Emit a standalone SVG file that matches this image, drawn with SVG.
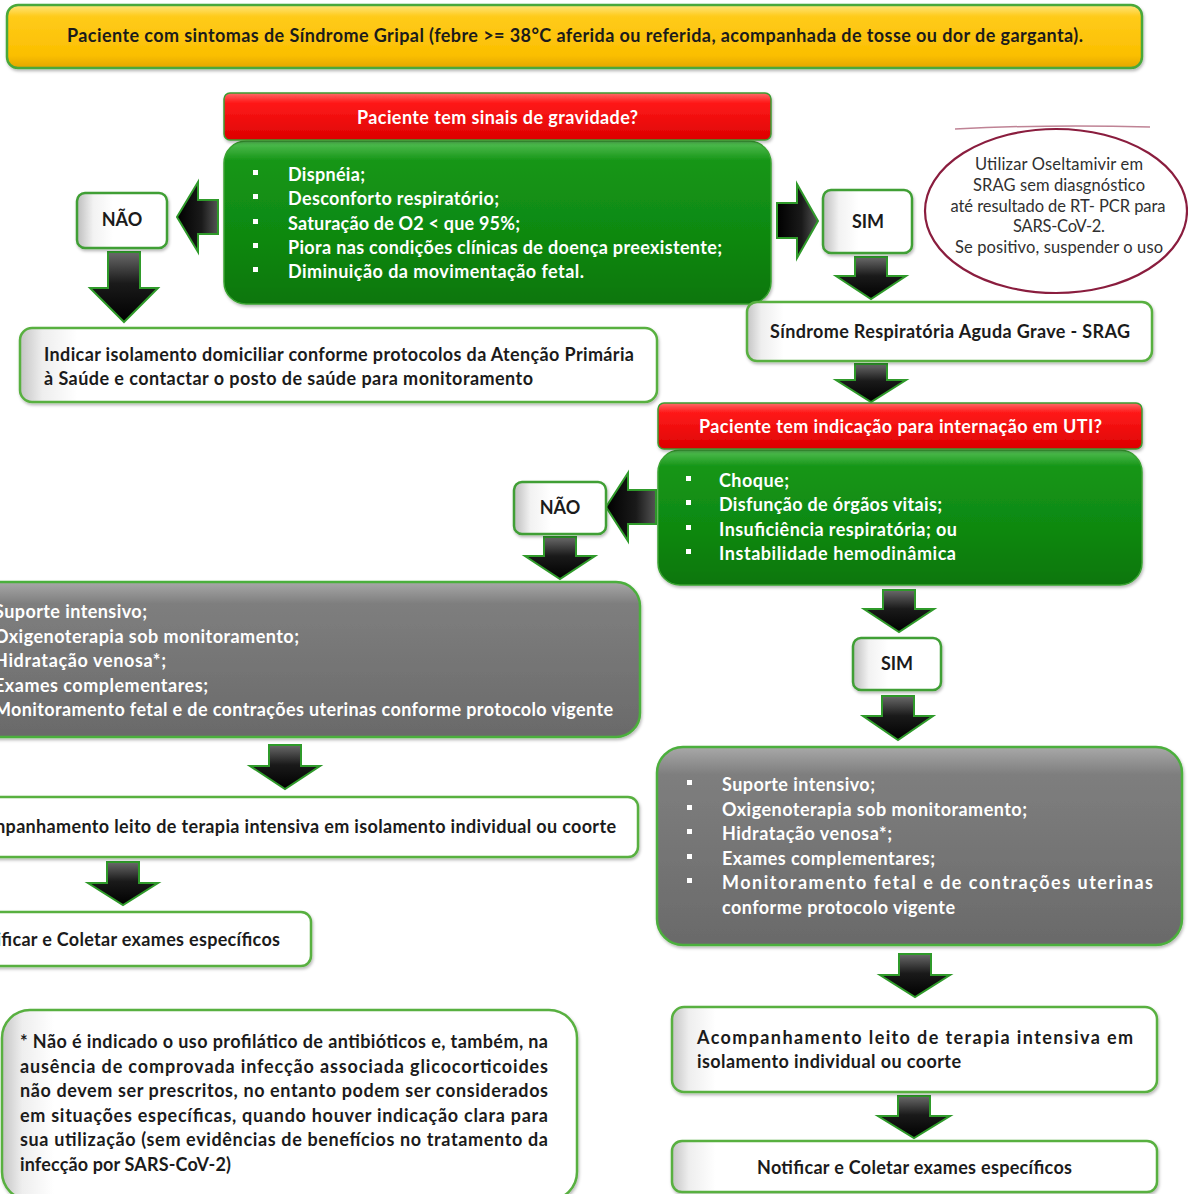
<svg xmlns="http://www.w3.org/2000/svg" width="1188" height="1194" viewBox="0 0 1188 1194">
  <defs>
    <linearGradient id="gYellow" x1="0" y1="0" x2="0" y2="1">
      <stop offset="0" stop-color="#ffe680"/>
      <stop offset="0.18" stop-color="#ffcb1a"/>
      <stop offset="0.8" stop-color="#fbbf00"/>
      <stop offset="1" stop-color="#e2a600"/>
    </linearGradient>
    <linearGradient id="gRed" x1="0" y1="0" x2="0" y2="1">
      <stop offset="0" stop-color="#ff6a6a"/>
      <stop offset="0.2" stop-color="#ff1a1a"/>
      <stop offset="1" stop-color="#dd0000"/>
    </linearGradient>
    <linearGradient id="gGreen" x1="0" y1="0" x2="0" y2="1">
      <stop offset="0" stop-color="#56c056"/>
      <stop offset="0.12" stop-color="#169618"/>
      <stop offset="0.6" stop-color="#0e8810"/>
      <stop offset="1" stop-color="#0a760d"/>
    </linearGradient>
    <linearGradient id="gGray" x1="0" y1="0" x2="0" y2="1">
      <stop offset="0" stop-color="#a8a8a8"/>
      <stop offset="0.14" stop-color="#7e7e7e"/>
      <stop offset="1" stop-color="#6a6a6a"/>
    </linearGradient>
    <linearGradient id="gWhite" x1="0" y1="0" x2="1" y2="0">
      <stop offset="0" stop-color="#c4c4c4"/>
      <stop offset="0.035" stop-color="#eeeeee"/>
      <stop offset="0.09" stop-color="#ffffff"/>
      <stop offset="1" stop-color="#ffffff"/>
    </linearGradient>
    <linearGradient id="gWhiteSmall" x1="0" y1="0" x2="1" y2="0">
      <stop offset="0" stop-color="#bdbdbd"/>
      <stop offset="0.18" stop-color="#f2f2f2"/>
      <stop offset="0.4" stop-color="#ffffff"/>
    </linearGradient>
    <linearGradient id="gArrowDown" x1="0" y1="0" x2="0" y2="1">
      <stop offset="0" stop-color="#6a6a6a"/>
      <stop offset="0.45" stop-color="#1a1a1a"/>
      <stop offset="1" stop-color="#000000"/>
    </linearGradient>
    <linearGradient id="gArrowSide" x1="0" y1="0" x2="1" y2="0">
      <stop offset="0" stop-color="#000000"/>
      <stop offset="0.6" stop-color="#1a1a1a"/>
      <stop offset="1" stop-color="#555555"/>
    </linearGradient>
    <filter id="shadow" x="-5%" y="-10%" width="110%" height="130%">
      <feDropShadow dx="1" dy="2" stdDeviation="1.5" flood-color="#000" flood-opacity="0.28"/>
    </filter>
  </defs>
  <style>
    text { font-family: "Lato", "Liberation Sans", sans-serif; font-weight: 700; font-size: 18px; }
    .dark { fill: #1b1b1b; }
    .light { fill: #ffffff; }
    .note { font-weight: 400; font-size: 16.5px; fill: #303030; }
    .mid { text-anchor: middle; }
    .boxW { fill: url(#gWhite); stroke: #58b040; stroke-width: 2.5; filter: url(#shadow); }
    .boxS { fill: url(#gWhiteSmall); stroke: #3f9f34; stroke-width: 2.5; filter: url(#shadow); }
    .boxY { fill: url(#gYellow); stroke: #4aa83a; stroke-width: 2.5; filter: url(#shadow); }
    .boxR { fill: url(#gRed); stroke: #3d9b30; stroke-width: 1.5; filter: url(#shadow); }
    .boxG { fill: url(#gGreen); stroke: #3aa332; stroke-width: 1.5; filter: url(#shadow); }
    .boxK { fill: url(#gGray); stroke: #4caf3c; stroke-width: 2.5; filter: url(#shadow); }
    .bullet { fill: #ffffff; }
    .arrD { fill: url(#gArrowDown); stroke: #2f9a2a; stroke-width: 2; stroke-linejoin: miter; }
    .arrS { fill: url(#gArrowSide); stroke: #2f9a2a; stroke-width: 2; stroke-linejoin: miter; }
    .oval { fill: none; stroke: #8a1d3e; stroke-width: 2.2; }
  </style>

  <!-- connectors: block arrows between steps -->
  <g id="connectors">
    <!-- gravity check: no / yes -->
    <path class="arrS" d="M218,200 V234 H198 V252 L177,217 L198,182 V200 Z"/>
    <path class="arrS" d="M777,203 V238 H797 V258 L818,221 L797,184 V203 Z"/>
    <path class="arrD" d="M108,252 H140 V288 H158 L124,322 L90,288 H108 Z"/>
    <path class="arrD" d="M855,257 H887 V276 H906 L871,299 L836,276 H855 Z"/>
    <path class="arrD" d="M855,364 H887 V380 H906 L871,402 L836,380 H855 Z"/>
    <!-- ICU check: no / yes -->
    <path class="arrS" d="M656,490 V524 H628 V541 L606,507 L628,473 V490 Z"/>
    <path class="arrD" d="M544,537 H576 V556 H595 L560,579 L525,556 H544 Z"/>
    <path class="arrD" d="M883,590 H915 V609 H934 L899,632 L864,609 H883 Z"/>
    <path class="arrD" d="M882,696 H914 V716 H933 L898,740 L863,716 H882 Z"/>
    <!-- follow-up chains -->
    <path class="arrD" d="M269,745 H301 V766 H320 L285,789 L250,766 H269 Z"/>
    <path class="arrD" d="M107,862 H139 V883 H158 L123,905 L88,883 H107 Z"/>
    <path class="arrD" d="M899,954 H931 V975 H950 L915,997 L880,975 H899 Z"/>
    <path class="arrD" d="M898,1096 H930 V1116 H950 L914,1138 L878,1116 H898 Z"/>
  </g>

  <!-- entry condition -->
  <g id="n-sindrome-gripal">
    <rect class="boxY" x="7" y="5" width="1135" height="63" rx="11"/>
    <text class="dark" x="67" y="42" textLength="1016">Paciente com sintomas de Síndrome Gripal (febre &gt;= 38°C aferida ou referida, acompanhada de tosse ou dor de garganta).</text>
  </g>

  <!-- gravity question and criteria -->
  <g id="n-gravidade">
    <rect class="boxG" x="224" y="141" width="547" height="163" rx="22"/>
    <rect class="boxR" x="224" y="93" width="547" height="47" rx="6"/>
    <text class="light" x="357" y="124" textLength="281">Paciente tem sinais de gravidade?</text>
    <rect class="bullet" x="253" y="170" width="5" height="5"/>
    <rect class="bullet" x="253" y="194" width="5" height="5"/>
    <rect class="bullet" x="253" y="219" width="5" height="5"/>
    <rect class="bullet" x="253" y="243" width="5" height="5"/>
    <rect class="bullet" x="253" y="267" width="5" height="5"/>
    <text class="light" x="288" y="181" textLength="77">Dispnéia;</text>
    <text class="light" x="288" y="205" textLength="211">Desconforto respiratório;</text>
    <text class="light" x="288" y="230" textLength="232">Saturação de O2 &lt; que 95%;</text>
    <text class="light" x="288" y="254" textLength="434">Piora nas condições clínicas de doença preexistente;</text>
    <text class="light" x="288" y="278" textLength="296">Diminuição da movimentação fetal.</text>
  </g>

  <g id="n-nao-1">
    <rect class="boxS" x="77" y="193" width="90" height="55" rx="8"/>
    <text class="dark mid" x="122" y="226">NÃO</text>
  </g>

  <g id="n-sim-1">
    <rect class="boxS" x="823" y="190" width="89" height="63" rx="8"/>
    <text class="dark mid" x="868" y="228">SIM</text>
  </g>

  <!-- antiviral note -->
  <g id="n-oseltamivir">
    <ellipse class="oval" cx="1056" cy="211" rx="131" ry="82"/>
    <path d="M955,129 Q1050,124 1150,127" fill="none" stroke="#8a1d3e" stroke-width="1.5" opacity="0.55"/>
    <text class="note mid" x="1059" y="170" textLength="168">Utilizar Oseltamivir em</text>
    <text class="note mid" x="1059" y="191" textLength="172">SRAG sem diasgnóstico</text>
    <text class="note mid" x="1058" y="212" textLength="215">até resultado de RT- PCR para</text>
    <text class="note mid" x="1059" y="232" textLength="92">SARS-CoV-2.</text>
    <text class="note mid" x="1059" y="253" textLength="208">Se positivo, suspender o uso</text>
  </g>

  <g id="n-isolamento">
    <rect class="boxW" x="20" y="328" width="637" height="74" rx="12"/>
    <text class="dark" x="44" y="361" textLength="590">Indicar isolamento domiciliar conforme protocolos da Atenção Primária</text>
    <text class="dark" x="44" y="385" textLength="489">à Saúde e contactar o posto de saúde para monitoramento</text>
  </g>

  <g id="n-srag">
    <rect class="boxW" x="747" y="302" width="405" height="59" rx="10"/>
    <text class="dark" x="770" y="338" textLength="360">Síndrome Respiratória Aguda Grave - SRAG</text>
  </g>

  <!-- ICU question and criteria -->
  <g id="n-uti">
    <rect class="boxG" x="658" y="450" width="484" height="135" rx="22"/>
    <rect class="boxR" x="658" y="403" width="484" height="46" rx="6"/>
    <text class="light" x="699" y="433" textLength="403">Paciente tem indicação para internação em UTI?</text>
    <rect class="bullet" x="686" y="476" width="5" height="5"/>
    <rect class="bullet" x="686" y="500" width="5" height="5"/>
    <rect class="bullet" x="686" y="525" width="5" height="5"/>
    <rect class="bullet" x="686" y="549" width="5" height="5"/>
    <text class="light" x="719" y="487" textLength="70">Choque;</text>
    <text class="light" x="719" y="511" textLength="223">Disfunção de órgãos vitais;</text>
    <text class="light" x="719" y="536" textLength="238">Insuficiência respiratória; ou</text>
    <text class="light" x="719" y="560" textLength="237">Instabilidade hemodinâmica</text>
  </g>

  <g id="n-nao-2">
    <rect class="boxS" x="514" y="482" width="92" height="52" rx="8"/>
    <text class="dark mid" x="560" y="514">NÃO</text>
  </g>

  <g id="n-sim-2">
    <rect class="boxS" x="853" y="638" width="88" height="52" rx="8"/>
    <text class="dark mid" x="897" y="670">SIM</text>
  </g>

  <!-- ward care branch -->
  <g id="n-cuidados-enfermaria">
    <rect class="boxK" x="-71" y="582" width="711" height="155" rx="24"/>
    <rect class="bullet" x="-39" y="607" width="5" height="5"/>
    <rect class="bullet" x="-39" y="632" width="5" height="5"/>
    <rect class="bullet" x="-39" y="656" width="5" height="5"/>
    <rect class="bullet" x="-39" y="681" width="5" height="5"/>
    <rect class="bullet" x="-39" y="705" width="5" height="5"/>
    <text class="light" x="-6" y="618" textLength="153">Suporte intensivo;</text>
    <text class="light" x="-6" y="643" textLength="305">Oxigenoterapia sob monitoramento;</text>
    <text class="light" x="-6" y="667" textLength="172">Hidratação venosa*;</text>
    <text class="light" x="-6" y="692" textLength="214">Exames complementares;</text>
    <text class="light" x="-6" y="716" textLength="619">Monitoramento fetal e de contrações uterinas conforme protocolo vigente</text>
  </g>

  <g id="n-acompanhamento-1">
    <rect class="boxW" x="-70" y="797" width="708" height="60" rx="10"/>
    <text class="dark" x="-42" y="833" textLength="658">Acompanhamento leito de terapia intensiva em isolamento individual ou coorte</text>
  </g>

  <g id="n-notificar-1">
    <rect class="boxW" x="-70" y="912" width="381" height="54" rx="10"/>
    <text class="dark" x="-35" y="946" textLength="315">Notificar e Coletar exames específicos</text>
  </g>

  <g id="n-nota-antibioticos">
    <rect class="boxW" x="2" y="1010" width="575" height="190" rx="28"/>
    <text class="dark" x="20" y="1048" textLength="528">* Não é indicado o uso profilático de antibióticos e, também, na</text>
    <text class="dark" x="20" y="1073" textLength="528">ausência de comprovada infecção associada glicocorticoides</text>
    <text class="dark" x="20" y="1097" textLength="528">não devem ser prescritos, no entanto podem ser considerados</text>
    <text class="dark" x="20" y="1122" textLength="528">em situações específicas, quando houver indicação clara para</text>
    <text class="dark" x="20" y="1146" textLength="528">sua utilização (sem evidências de benefícios no tratamento da</text>
    <text class="dark" x="20" y="1171" textLength="211">infecção por SARS-CoV-2)</text>
  </g>

  <!-- ICU care branch -->
  <g id="n-cuidados-uti">
    <rect class="boxK" x="657" y="747" width="525" height="198" rx="26"/>
    <rect class="bullet" x="687" y="780" width="5" height="5"/>
    <rect class="bullet" x="687" y="805" width="5" height="5"/>
    <rect class="bullet" x="687" y="829" width="5" height="5"/>
    <rect class="bullet" x="687" y="854" width="5" height="5"/>
    <rect class="bullet" x="687" y="878" width="5" height="5"/>
    <text class="light" x="722" y="791" textLength="153">Suporte intensivo;</text>
    <text class="light" x="722" y="816" textLength="305">Oxigenoterapia sob monitoramento;</text>
    <text class="light" x="722" y="840" textLength="170">Hidratação venosa*;</text>
    <text class="light" x="722" y="865" textLength="213">Exames complementares;</text>
    <text class="light" x="722" y="889" textLength="431">Monitoramento fetal e de contrações uterinas</text>
    <text class="light" x="722" y="914" textLength="233">conforme protocolo vigente</text>
  </g>

  <g id="n-acompanhamento-2">
    <rect class="boxW" x="672" y="1007" width="485" height="85" rx="12"/>
    <text class="dark" x="697" y="1044" textLength="436">Acompanhamento leito de terapia intensiva em</text>
    <text class="dark" x="697" y="1068" textLength="264">isolamento individual ou coorte</text>
  </g>

  <g id="n-notificar-2">
    <rect class="boxW" x="672" y="1141" width="485" height="51" rx="10"/>
    <text class="dark" x="757" y="1174" textLength="315">Notificar e Coletar exames específicos</text>
  </g>
</svg>
